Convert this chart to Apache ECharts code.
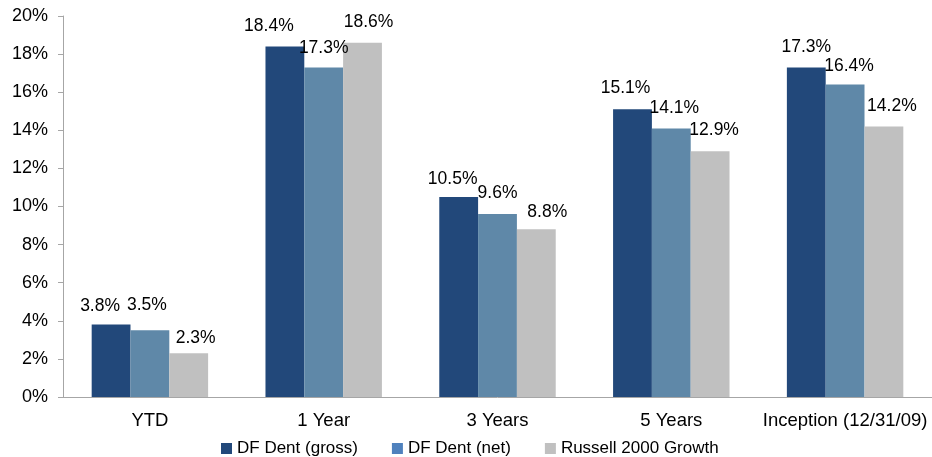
<!DOCTYPE html>
<html>
<head>
<meta charset="utf-8">
<script src="https://cdn.jsdelivr.net/npm/echarts@6/dist/echarts.min.js"></script>
<style>
  html, body { margin: 0; padding: 0; background: #fff; }
  #chart { width: 932px; height: 457px; }
</style>
</head>
<body>
<div id="chart"></div>
<script>
// periods and returns (%)
var categories = ['YTD', '1 Year', '3 Years', '5 Years', 'Inception (12/31/09)'];
var grossData = [3.8, 18.4, 10.5, 15.1, 17.3];
var netData = [3.5, 17.3, 9.6, 14.1, 16.4];
var russellData = [2.3, 18.6, 8.8, 12.9, 14.2];
var yTicks = [0, 2, 4, 6, 8, 10, 12, 14, 16, 18, 20];

// hand placed label nudges [dx, dy] like in the original sheet (layout only)
var grossLabelShift = [[-11, 2], [-16, 0], [-6, 2], [-7, -1], [0, 0]];
var netLabelShift = [[-3, -5], [0, 1], [0, -1], [3, 0], [4, 2]];
var russellLabelShift = [[7, 5], [6, 0], [11, 3], [4, -1], [8, 0]];

var font = 'Liberation Sans, Arial, sans-serif';
var axisGray = '#a6a6a6';

function barLabel() {
    return {
        show: true,
        position: 'top',
        distance: 11,
        color: '#000',
        fontFamily: font,
        fontSize: 17.5,
        formatter: function (p) { return p.value.toFixed(1) + '%'; }
    };
}

function withShift(values, shifts) {
    return values.map(function (v, i) {
        return { value: v, label: { offset: shifts[i] } };
    });
}

var myChart = echarts.init(document.getElementById('chart'));
myChart.setOption({
    animation: false,
    backgroundColor: '#fff',
    grid: { left: 63, right: 0, top: 16, bottom: 60, containLabel: false },
    legend: {
        top: 440,
        left: 221,
        padding: 0,
        itemWidth: 11,
        itemHeight: 11,
        itemGap: 34,
        icon: 'rect',
        textStyle: { fontFamily: font, fontSize: 17, color: '#000' },
        data: [
            { name: 'DF Dent (gross)', itemStyle: { color: '#22487a' } },
            { name: 'DF Dent (net)', itemStyle: { color: '#4f81bd' } },
            { name: 'Russell 2000 Growth', itemStyle: { color: '#c0c0c0' } }
        ]
    },
    xAxis: {
        type: 'category',
        data: categories,
        axisLine: { lineStyle: { color: axisGray } },
        axisTick: { length: 5, lineStyle: { color: axisGray } },
        axisLabel: { interval: 0, color: '#000', fontFamily: font, fontSize: 18.5, margin: 14 }
    },
    yAxis: {
        type: 'value',
        min: yTicks[0],
        max: yTicks[yTicks.length - 1],
        interval: 2,
        axisLine: { show: true, lineStyle: { color: axisGray } },
        axisTick: { show: true, length: 5, lineStyle: { color: axisGray } },
        splitLine: { show: false },
        axisLabel: { color: '#000', fontFamily: font, fontSize: 18, margin: 15,
            formatter: function (v) { return v + '%'; } }
    },
    series: [
        { name: 'DF Dent (gross)', type: 'bar', data: withShift(grossData, grossLabelShift),
          barGap: '0%', barCategoryGap: '33%',
          itemStyle: { color: '#22487a' }, label: barLabel() },
        { name: 'DF Dent (net)', type: 'bar', data: withShift(netData, netLabelShift),
          itemStyle: { color: '#5f88a8' }, label: barLabel() },
        { name: 'Russell 2000 Growth', type: 'bar', data: withShift(russellData, russellLabelShift),
          itemStyle: { color: '#c0c0c0' }, label: barLabel() }
    ]
});
</script>
</body>
</html>
